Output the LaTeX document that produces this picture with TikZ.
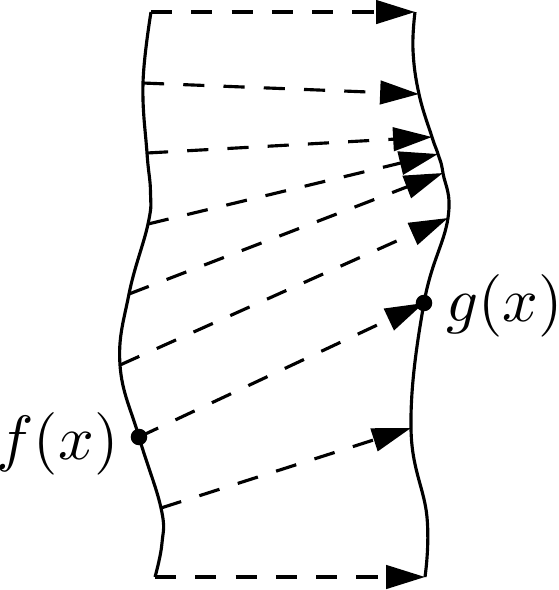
\documentclass[tikz,border=0pt]{standalone}
\usetikzlibrary{arrows.meta}
\begin{document}
\begin{tikzpicture}[x=0.175pt,y=-0.175pt,
  curve/.style={line width=0.55pt, line join=round},
  mapline/.style={line width=0.55pt, dash pattern=on 3.7pt off 3.35pt, -{Triangle[length=6.8pt,width=4.1pt]}},
  dotnode/.style={circle, fill=black, inner sep=0pt, minimum size=2.9pt},
  lab/.style={inner sep=0pt, font=\fontsize{10.5pt}{13pt}\selectfont}]
\useasboundingbox (0,0) rectangle (559,590);
% left curve points
\coordinate (L1) at (151,12);
\coordinate (L2) at (143,83);
\coordinate (L3) at (147,153);
\coordinate (L3b) at (150.5,192);
\coordinate (L4) at (148,224);
\coordinate (L5) at (129,294);
\coordinate (L6) at (120,365);
\coordinate (L7) at (139,437);
\coordinate (L8) at (161,508);
\coordinate (L8b) at (162,543);
\coordinate (L9) at (155,577);
% right curve points
\coordinate (R1) at (415,12);
\coordinate (R1b) at (413,50);
\coordinate (R2) at (419,94);
\coordinate (R3) at (432,137);
\coordinate (R4) at (438,154);
\coordinate (R5) at (443,173);
\coordinate (R6) at (448,218);
\coordinate (R7) at (424,303);
\coordinate (R8) at (411,428);
\coordinate (R8b) at (427,517);
\coordinate (R9) at (425,577);
\draw[curve] plot[smooth, tension=0.7] coordinates {(L1) (L2) (L3) (L3b) (L4) (L5) (L6) (L7) (L8) (L8b) (L9)};
\draw[curve] plot[smooth, tension=0.7] coordinates {(R1) (R1b) (R2) (R3) (R4) (R5) (R6) (R7) (R8) (R8b) (R9)};
\foreach \i in {1,...,9} \draw[mapline] (L\i) -- (R\i);
\node[dotnode] (fdot) at (L7) {};
\node[dotnode] (gdot) at (R7) {};
\node[lab, anchor=east] (flab) at ([xshift=-3.4pt,yshift=-1.2pt]fdot.center) {$f(x)$};
\node[lab, anchor=west] (glab) at ([xshift=3.7pt,yshift=-0.45pt]gdot.center) {$g(x)$};
\end{tikzpicture}
\end{document}
